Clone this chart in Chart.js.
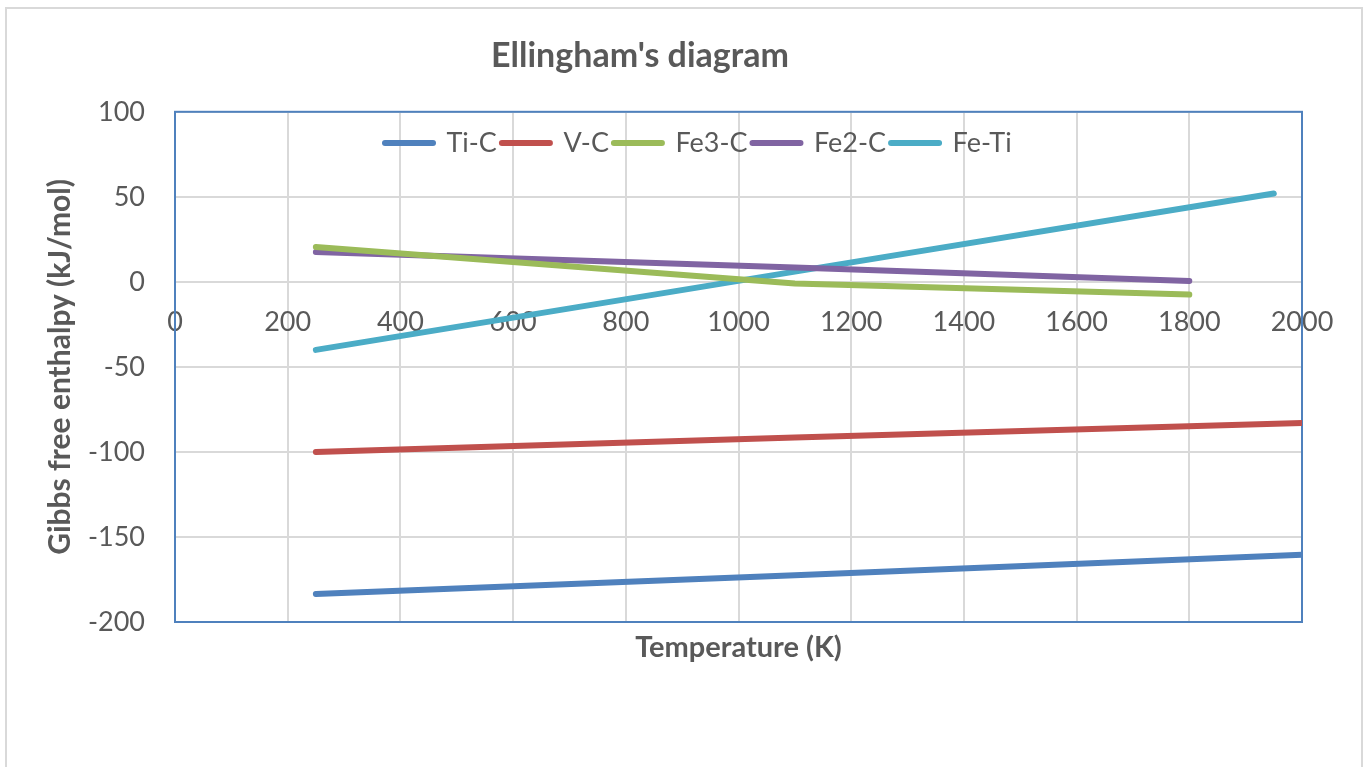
<!DOCTYPE html>
<html>
<head>
<meta charset="utf-8">
<script src="https://cdn.jsdelivr.net/npm/chart.js@4.4.0/dist/chart.umd.min.js"></script>
<style>
  html, body { margin: 0; padding: 0; background: #fff; overflow: hidden; }
  #rahmen { position: absolute; left: 5px; top: 7px; width: 1358px; height: 800px; border: 2px solid #d9d9d9; box-sizing: border-box; }
  canvas { position: absolute; left: 0; top: 0; }
</style>
</head>
<body>
<div id="rahmen"></div>
<canvas id="chart" width="1370" height="767"></canvas>
<script>
const serienNamen = ['Ti-C', 'V-C', 'Fe3-C', 'Fe2-C', 'Fe-Ti'];
const farben = ['#4f81bd', '#c0504d', '#9bbb59', '#8064a2', '#4bacc6'];

const tiC_T = [250, 1100, 2000];
const tiC_G = [-183.5, -172.5, -160.5];

const vC_T = [250, 1100, 2000];
const vC_G = [-100, -91.5, -83];

const fe3C_T = [250, 1100, 1800];
const fe3C_G = [20.5, -1, -7.5];

const fe2C_T = [250, 1100, 1800];
const fe2C_G = [17.5, 8.5, 0.5];

const feTi_T = [250, 1100, 1950];
const feTi_G = [-40, 6, 52];

const xTicks = [0, 200, 400, 600, 800, 1000, 1200, 1400, 1600, 1800, 2000];
const yTicks = [-200, -150, -100, -50, 0, 50, 100];

const schrift = 'Lato, "Liberation Sans", sans-serif';
const textFarbe = '#595959';
const gitterFarbe = '#d9d9d9';

function punkte(xs, ys) {
  return xs.map((x, i) => ({ x: x, y: ys[i] }));
}

const alleT = [tiC_T, vC_T, fe3C_T, fe2C_T, feTi_T];
const alleG = [tiC_G, vC_G, fe3C_G, fe2C_G, feTi_G];

const datasets = serienNamen.map((name, i) => ({
  label: name,
  data: punkte(alleT[i], alleG[i]),
  borderColor: farben[i],
  backgroundColor: farben[i],
  borderWidth: 6,
  borderCapStyle: 'round',
  borderJoinStyle: 'round',
  pointRadius: 0,
  fill: false,
  tension: 0
}));

// Titel und Legende an die Stelle schieben, wo sie im Original stehen,
// und den blauen Rahmen um die Zeichenfläche ziehen
const rahmenPlugin = {
  id: 'rahmenPlugin',
  afterLayout(chart) {
    const t = chart.titleBlock;
    t.left = 340;
    t.right = 940;
    const lg = chart.legend;
    lg.left = 385 - 5;
    lg.right = chart.chartArea.right;
    lg.top = 143 - 5 - 13.5;
    lg.bottom = lg.top + 60;
  },
  beforeDatasetsDraw(chart) {
    const { ctx, chartArea: a } = chart;
    ctx.save();
    ctx.strokeStyle = '#4f81bd';
    ctx.lineWidth = 2;
    ctx.strokeRect(a.left, a.top, a.right - a.left, a.bottom - a.top);
    ctx.restore();
  }
};

new Chart(document.getElementById('chart').getContext('2d'), {
  type: 'line',
  data: { datasets },
  plugins: [rahmenPlugin],
  options: {
    responsive: false,
    animation: false,
    events: [],
    layout: { padding: { left: 0, top: 36, right: 68, bottom: 0 } },
    plugins: {
      title: {
        display: true,
        text: "Ellingham's diagram",
        color: textFarbe,
        font: { family: schrift, size: 34, weight: 'bold', lineHeight: 1.2 },
        padding: { top: 0, bottom: 34 }
      },
      legend: {
        position: 'top',
        align: 'start',
        maxHeight: 1,
        labels: {
          usePointStyle: true,
          pointStyle: 'line',
          pointStyleWidth: 48,
          padding: 5,
          color: textFarbe,
          font: { family: schrift, size: 27 },
          generateLabels(chart) {
            return Chart.defaults.plugins.legend.labels.generateLabels(chart).map((l, i) => ({
              ...l,
              lineCap: 'round',
              lineWidth: 6,
              strokeStyle: farben[i],
              fillStyle: farben[i]
            }));
          }
        }
      },
      tooltip: { enabled: false }
    },
    scales: {
      x: {
        type: 'linear',
        position: 'bottom',
        min: 0,
        max: 2000,
        afterBuildTicks(s) { s.ticks = xTicks.map(v => ({ value: v })); },
        ticks: { display: false },
        grid: { color: gitterFarbe, lineWidth: 2, drawTicks: false },
        border: { display: false },
        title: {
          display: true,
          text: 'Temperature (K)',
          color: textFarbe,
          font: { family: schrift, size: 29, weight: 'bold', lineHeight: 1.2 },
          padding: { top: 0, bottom: 102 }
        },
        afterFit(s) { s.height = 145; }
      },
      x2: {
        type: 'linear',
        position: { y: 0 },
        min: 0,
        max: 2000,
        afterBuildTicks(s) { s.ticks = xTicks.map(v => ({ value: v })); },
        ticks: {
          padding: 24,
          color: textFarbe,
          font: { family: schrift, size: 27 },
          maxRotation: 0,
          autoSkip: false,
          callback: (v) => String(v)
        },
        grid: { display: false, drawTicks: false },
        border: { display: false }
      },
      y: {
        min: -200,
        max: 100,
        afterBuildTicks(s) { s.ticks = yTicks.map(v => ({ value: v })); },
        ticks: { padding: 30, color: textFarbe, font: { family: schrift, size: 27 } },
        grid: { color: gitterFarbe, lineWidth: 2, drawTicks: false },
        border: { display: false },
        title: {
          display: true,
          text: 'Gibbs free enthalpy (kJ/mol)',
          color: textFarbe,
          font: { family: schrift, size: 30, weight: 'bold', lineHeight: 1.2 },
          padding: { top: 42, bottom: 0 }
        },
        afterFit(s) { s.width = 175; }
      }
    }
  }
});
</script>
</body>
</html>
